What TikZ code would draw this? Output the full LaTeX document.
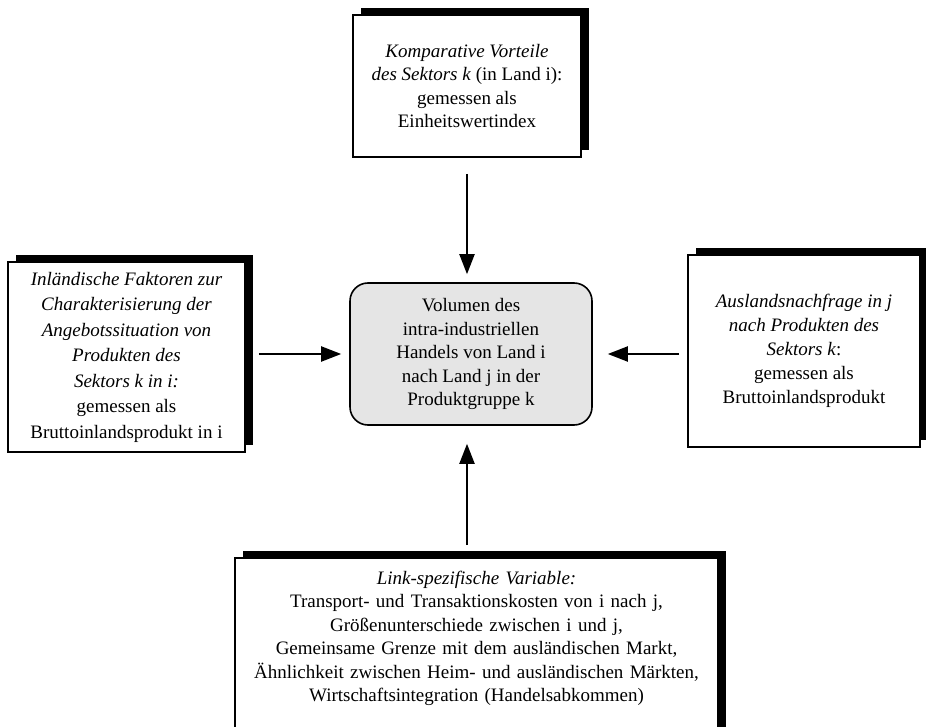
\documentclass[tikz,border=0pt]{standalone}
\usepackage{fontspec}
\setmainfont{Liberation Serif}
\usetikzlibrary{arrows.meta,shadows}
\begin{document}
\begin{tikzpicture}[x=1pt, y=-1pt,
  kasten/.style={draw, line width=1.6pt, fill=white, align=center, inner sep=0pt,
    general shadow={fill=black, shadow xshift=8pt, shadow yshift=7pt},
    font=\fontsize{19}{23.5}\selectfont},
  pfeil/.style={line width=2pt, -{Triangle[length=20pt,width=15pt]}}]
  \useasboundingbox (0,0) rectangle (926,727);
  \clip (0,0) rectangle (926,727);
  \node[kasten, minimum width=228pt, minimum height=142pt] (komp) at (467,86)
    {\textit{Komparative Vorteile}\\ \textit{des Sektors k} (in Land i):\\ gemessen als\\ Einheitswertindex};
  \node[kasten, minimum width=237pt, minimum height=190pt,
    font=\fontsize{19}{25.5}\selectfont] (inland) at (126.5,357)
    {\textit{Inländische Faktoren zur}\\ \textit{Charakterisierung der}\\ \textit{Angebotssituation von}\\
     \textit{Produkten des}\\ \textit{Sektors k in i:}\\ gemessen als\\ Bruttoinlandsprodukt in i};
  \node[kasten, minimum width=232pt, minimum height=192pt,
    font=\fontsize{19}{24}\selectfont] (ausland) at (804,351)
    {\textit{Auslandsnachfrage in j}\\ \textit{nach Produkten des}\\ \textit{Sektors k}:\\ gemessen als\\ Bruttoinlandsprodukt};
  \node[draw, line width=1.6pt, fill=black!10, rounded corners=18pt, align=center,
    minimum width=242pt, minimum height=142pt, font=\fontsize{19}{23.5}\selectfont] (volumen) at (471,354)
    {Volumen des\\ intra-industriellen\\ Handels von Land i\\ nach Land j in der\\ Produktgruppe k};
  \node[kasten, anchor=north, text width=483pt, inner ysep=13pt, text depth=200pt] (link) at (476.5,557)
    {\textit{Link-spezifische Variable:}\\ Transport- und Transaktionskosten von i nach j,\\
     Größenunterschiede zwischen i und j,\\ Gemeinsame Grenze mit dem ausländischen Markt,\\
     Ähnlichkeit zwischen Heim- und ausländischen Märkten,\\ Wirtschaftsintegration (Handelsabkommen)};
  % Pfeile
  \draw[pfeil, shorten <=16pt, shorten >=8pt] (komp.south) -- (komp.south |- volumen.north);
  \draw[pfeil, shorten <=13pt, shorten >=8pt] (inland.east |- volumen.west) -- (volumen.west);
  \draw[pfeil, shorten <=8pt, shorten >=15pt] (ausland.west |- volumen.east) -- (volumen.east);
  \draw[pfeil, shorten <=12pt, shorten >=18pt] (link.north -| komp.south) -- (komp.south |- volumen.south);
\end{tikzpicture}
\end{document}
